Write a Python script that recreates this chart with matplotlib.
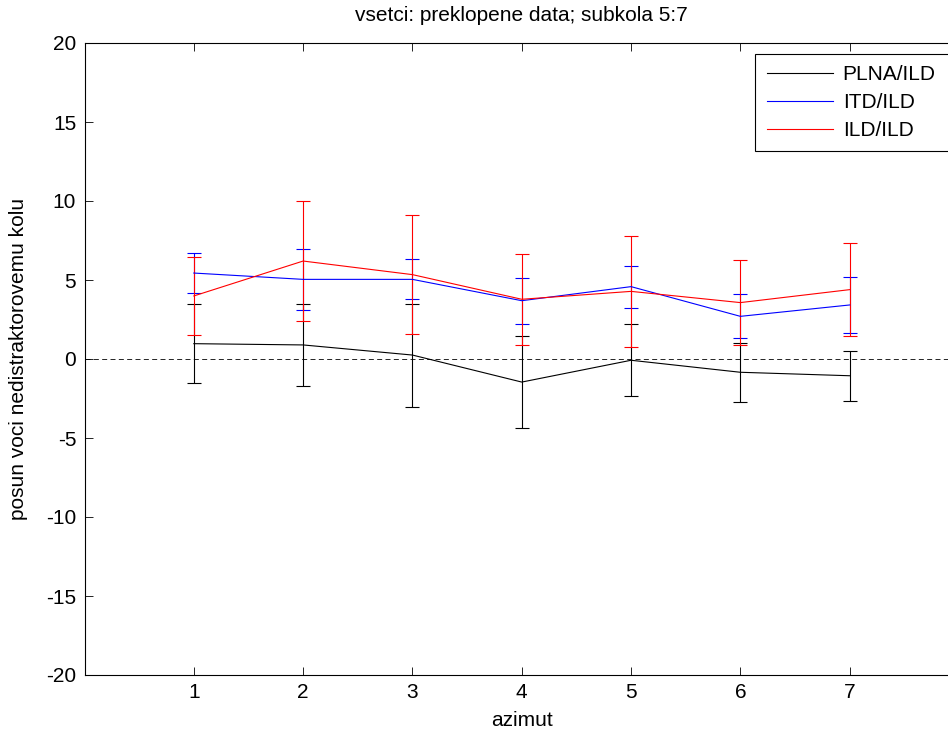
import matplotlib.pyplot as plt
import numpy as np

plt.rcParams['font.family'] = ['Liberation Sans', 'DejaVu Sans']
plt.rcParams['axes.unicode_minus'] = False

# azimut positions
azimut = np.array([1, 2, 3, 4, 5, 6, 7])

# means and error bar half-widths
plna_mean = [0.97, 0.89, 0.25, -1.46, -0.08, -0.84, -1.06]
plna_err = [2.5, 2.6, 3.26, 2.9, 2.29, 1.86, 1.58]
itd_mean = [5.44, 5.04, 5.04, 3.69, 4.58, 2.70, 3.42]
itd_err = [1.29, 1.92, 1.27, 1.45, 1.33, 1.39, 1.76]
ild_mean = [3.99, 6.20, 5.34, 3.78, 4.28, 3.57, 4.39]
ild_err = [2.46, 3.79, 3.75, 2.87, 3.52, 2.70, 2.93]

fs = 15

fig = plt.figure(figsize=(9.48, 7.34), dpi=100)
# axes run slightly past the right edge, as in the original
ax = fig.add_axes([84.5 / 948, 1 - 675 / 734, 874.5 / 948, 632 / 734])

series = [
    (plna_mean, plna_err, 'k', 'PLNA/ILD'),
    (itd_mean, itd_err, 'b', 'ITD/ILD'),
    (ild_mean, ild_err, 'r', 'ILD/ILD'),
]
handles = []
for mean, err, col, lab in series:
    eb = ax.errorbar(azimut, mean, yerr=err, color=col, lw=0.8, elinewidth=0.8,
                     capsize=4.7, capthick=0.8, label=lab)
    handles.append(eb.lines[0])

ax.plot([0, 8], [0, 0], color='k', ls='--', lw=0.6, dashes=(6, 4))

ax.set_xlim(0, 8)
ax.set_ylim(-20, 20)
ax.set_xticks(azimut)
ax.set_yticks(np.arange(-20, 21, 5))
ax.tick_params(direction='in', top=True, right=True, labelsize=fs, length=6, width=0.6, pad=6)
for sp in ax.spines.values():
    sp.set_linewidth(0.8)

ax.set_xlabel('azimut', fontsize=fs, labelpad=6)
ax.set_ylabel('posun voci nedistraktorovemu kolu', fontsize=fs, labelpad=13)
ax.set_title('vsetci: preklopene data; subkola 5:7', fontsize=fs, pad=16)

# legend box is cut off by the right edge in the original
leg = ax.legend(handles, [s[3] for s in series], loc='upper left',
                bbox_to_anchor=(0.767, 0.9826, 0.24, 0.0), mode='expand',
                fontsize=fs, frameon=True,
                fancybox=False, edgecolor='k', framealpha=1,
                handlelength=3.2, handletextpad=0.45, borderpad=0.55,
                labelspacing=0.42, borderaxespad=0)
leg.get_frame().set_linewidth(0.8)

fig.savefig('out.png', dpi=100)
